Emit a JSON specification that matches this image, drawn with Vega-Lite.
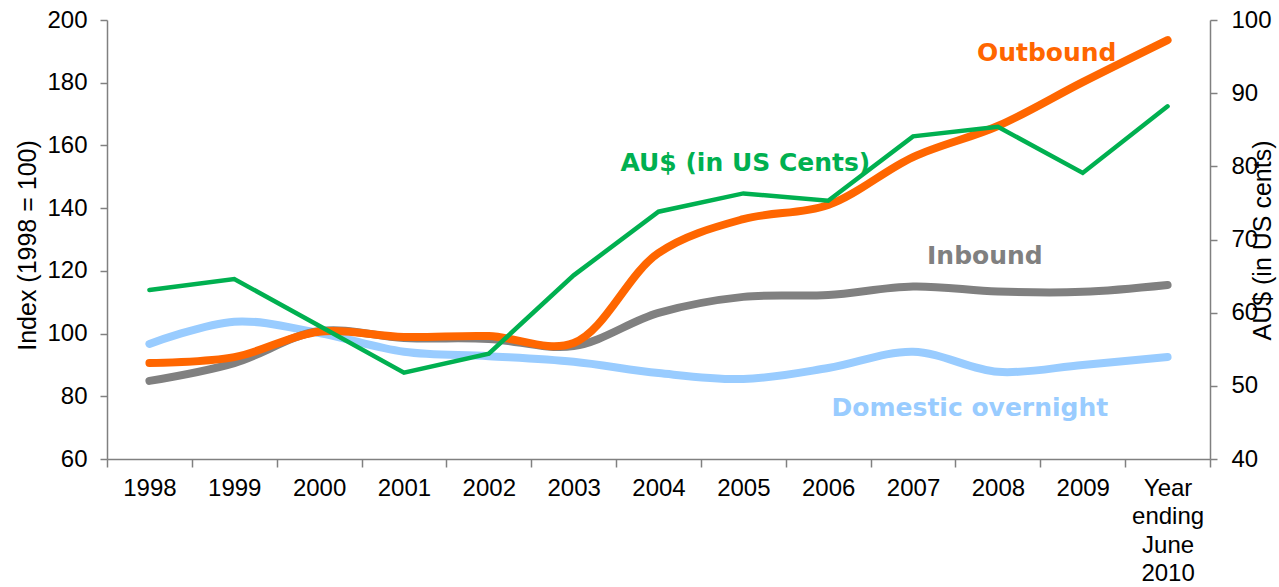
{
  "$schema": "https://vega.github.io/schema/vega-lite/v6.json",
  "width": 1103,
  "height": 439,
  "autosize": {"type": "none"},
  "padding": {"left": 107, "top": 20, "right": 69, "bottom": 128},
  "background": "white",
  "config": {
    "view": {"stroke": null},
    "axis": {
      "domainColor": "#808080",
      "tickColor": "#808080",
      "domainWidth": 1.5,
      "tickWidth": 1.5,
      "labelColor": "#000000",
      "labelFont": "Liberation Sans, Arial, sans-serif",
      "labelFontSize": 24,
      "titleFont": "Liberation Sans, Arial, sans-serif",
      "titleFontSize": 25,
      "titleFontWeight": "normal",
      "titleColor": "#000000",
      "grid": false
    }
  },
  "data": {
    "values": [
      {"cat": "1998", "outbound": 90.6, "inbound": 84.9, "domestic": 96.7, "aud": 63.1},
      {"cat": "1999", "outbound": 92.5, "inbound": 90.6, "domestic": 103.8, "aud": 64.6},
      {"cat": "2000", "outbound": 100.6, "inbound": 100.8, "domestic": 100.2, "aud": 58.2},
      {"cat": "2001", "outbound": 98.9, "inbound": 98.6, "domestic": 94.2, "aud": 51.8},
      {"cat": "2002", "outbound": 99.2, "inbound": 98.3, "domestic": 92.8, "aud": 54.4},
      {"cat": "2003", "outbound": 97.0, "inbound": 96.0, "domestic": 91.0, "aud": 65.1},
      {"cat": "2004", "outbound": 125.7, "inbound": 106.6, "domestic": 87.4, "aud": 73.8},
      {"cat": "2005", "outbound": 136.5, "inbound": 111.7, "domestic": 85.5, "aud": 76.3},
      {"cat": "2006", "outbound": 141.0, "inbound": 112.3, "domestic": 89.0, "aud": 75.3},
      {"cat": "2007", "outbound": 156.3, "inbound": 115.0, "domestic": 94.2, "aud": 84.1},
      {"cat": "2008", "outbound": 166.2, "inbound": 113.4, "domestic": 87.8, "aud": 85.4},
      {"cat": "2009", "outbound": 180.2, "inbound": 113.3, "domestic": 90.0, "aud": 79.1},
      {"cat": "Year ending June 2010", "outbound": 193.6, "inbound": 115.5, "domestic": 92.5, "aud": 88.2}
    ]
  },
  "encoding": {
    "x": {
      "field": "cat",
      "type": "nominal",
      "sort": null,
      "scale": {"type": "band", "paddingInner": 0, "paddingOuter": 0},
      "axis": {
        "title": null,
        "labelAngle": 0,
        "tickBand": "extent",
        "tickSize": 8,
        "labelPadding": 9,
        "labelLineHeight": 28.5,
        "labelExpr": "datum.value == 'Year ending June 2010' ? ['Year', 'ending', 'June', '2010'] : datum.label"
      }
    }
  },
  "layer": [
    {
      "layer": [
        {
          "mark": {"type": "line", "color": "#99CCFF", "strokeWidth": 8, "interpolate": "catmull-rom", "strokeCap": "round"},
          "encoding": {
            "y": {
              "field": "domestic",
              "type": "quantitative",
              "scale": {"domain": [60, 200], "nice": false},
              "axis": {
                "title": "Index (1998 = 100)",
                "values": [60, 80, 100, 120, 140, 160, 180, 200],
                "tickSize": 7,
                "labelPadding": 13,
                "titleX": -80,
                "titleY": 225,
                "titleBaseline": "middle",
                "titleAngle": -90
              }
            }
          }
        },
        {
          "mark": {"type": "line", "color": "#808080", "strokeWidth": 8, "interpolate": "catmull-rom", "strokeCap": "round"},
          "encoding": {"y": {"field": "inbound", "type": "quantitative"}}
        },
        {
          "mark": {"type": "line", "color": "#FF6600", "strokeWidth": 8, "interpolate": "catmull-rom", "strokeCap": "round"},
          "encoding": {"y": {"field": "outbound", "type": "quantitative"}}
        },
        {
          "data": {"values": [
            {"label": "Outbound", "cat": "2009", "v": 189.5}
          ]},
          "mark": {"type": "text", "color": "#FF6600", "font": "DejaVu Sans", "fontWeight": "bold", "fontSize": 25, "dx": -36, "baseline": "middle"},
          "encoding": {"text": {"field": "label"}, "y": {"field": "v", "type": "quantitative"}}
        },
        {
          "data": {"values": [
            {"label": "AU$ (in US Cents)", "cat": "2005", "v": 154.4}
          ]},
          "mark": {"type": "text", "color": "#00B050", "font": "DejaVu Sans", "fontWeight": "bold", "fontSize": 25, "dx": 2, "baseline": "middle"},
          "encoding": {"text": {"field": "label"}, "y": {"field": "v", "type": "quantitative"}}
        },
        {
          "data": {"values": [
            {"label": "Inbound", "cat": "2008", "v": 124.7}
          ]},
          "mark": {"type": "text", "color": "#808080", "font": "DejaVu Sans", "fontWeight": "bold", "fontSize": 25, "dx": -13, "baseline": "middle"},
          "encoding": {"text": {"field": "label"}, "y": {"field": "v", "type": "quantitative"}}
        },
        {
          "data": {"values": [
            {"label": "Domestic overnight", "cat": "2008", "v": 76.3}
          ]},
          "mark": {"type": "text", "color": "#99CCFF", "font": "DejaVu Sans", "fontWeight": "bold", "fontSize": 25, "dx": -28, "baseline": "middle"},
          "encoding": {"text": {"field": "label"}, "y": {"field": "v", "type": "quantitative"}}
        }
      ]
    },
    {
      "mark": {"type": "line", "color": "#00B050", "strokeWidth": 4.5, "strokeCap": "round"},
      "encoding": {
        "y": {
          "field": "aud",
          "type": "quantitative",
          "scale": {"domain": [40, 100], "nice": false},
          "axis": {
            "orient": "right",
            "title": "AU$ (in US cents)",
            "values": [40, 50, 60, 70, 80, 90, 100],
            "tickSize": 7,
            "labelPadding": 14,
            "titleX": 52,
            "titleY": 220,
            "titleBaseline": "middle",
            "titleAngle": -90
          }
        }
      }
    }
  ],
  "resolve": {"scale": {"y": "independent"}}
}
